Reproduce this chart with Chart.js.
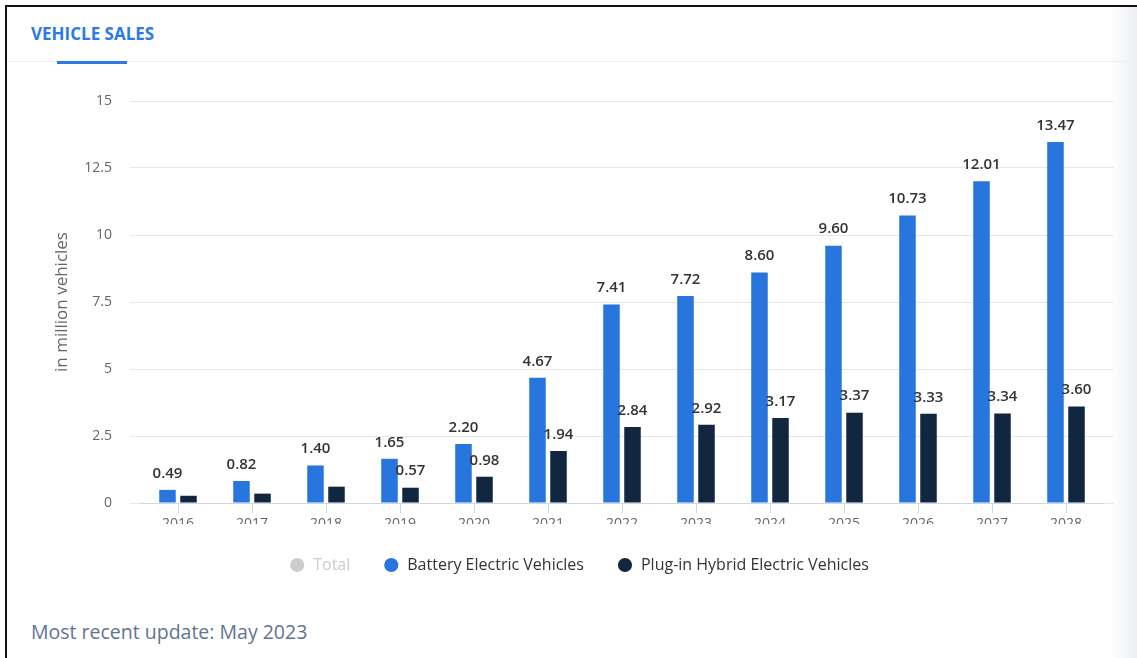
<!DOCTYPE html>
<html>
<head>
<meta charset="utf-8">
<script src="https://cdn.jsdelivr.net/npm/chart.js@4.4.0/dist/chart.umd.min.js"></script>
<style>
  body { margin: 0; width: 1137px; height: 658px; background: #fff; font-family: "Open Sans", sans-serif; overflow: hidden; position: relative; }
  .frame { position: absolute; left: 5px; top: 5px; right: -10px; bottom: -10px; border-left: 2px solid #111; border-top: 2px solid #111; }
  .shade { position: absolute; right: 0; top: 7px; width: 26px; bottom: 0; background: linear-gradient(to right, rgba(238,240,244,0), #eceef2); }
  .title { position: absolute; left: 31px; top: 22px; font-size: 17px; font-weight: 700; color: #2b7be2; }
  .hr { position: absolute; left: 7px; right: 0; top: 61px; height: 1px; background: #eef1f4; }
  .tab { position: absolute; left: 57px; top: 61px; width: 70px; height: 3px; background: #2b7be2; }
  .chart { position: absolute; left: 0; top: 80px; width: 1137px; height: 503px; }
  .update { position: absolute; left: 31px; top: 618px; font-size: 19.5px; color: #5f7491; }
</style>
</head>
<body>
<div class="frame"></div>
<div class="shade"></div>
<div class="title">VEHICLE SALES</div>
<div class="hr"></div>
<div class="tab"></div>
<div class="chart"><canvas id="salesChart"></canvas></div>
<div class="update">Most recent update: May 2023</div>

<script>
  const years = ['2016', '2017', '2018', '2019', '2020', '2021', '2022', '2023', '2024', '2025', '2026', '2027', '2028'];
  const bevSales = [0.49, 0.82, 1.40, 1.65, 2.20, 4.67, 7.41, 7.72, 8.60, 9.60, 10.73, 12.01, 13.47];
  const phevSales = [0.27, 0.35, 0.61, 0.57, 0.98, 1.94, 2.84, 2.92, 3.17, 3.37, 3.33, 3.34, 3.60];
  // years where the PHEV value label is not shown in the original
  const phevNoLabel = ['2016', '2017', '2018'];
  const yTicks = [0, 2.5, 5, 7.5, 10, 12.5, 15];

  const legendNames = ['Total', 'Battery Electric Vehicles', 'Plug-in Hybrid Electric Vehicles'];
  const legendDots = ['#cccccc', '#2876dd', '#10273f'];
  const legendText = ['#cccccc', '#333333', '#333333'];

  const tickFont = { family: '"Open Sans"', size: 14 };

  // Draw the value above each bar
  const valueLabels = {
    id: 'valueLabels',
    afterDatasetsDraw(chart) {
      const ctx = chart.ctx;
      ctx.save();
      ctx.font = '600 15px "Open Sans"';
      ctx.fillStyle = '#333';
      ctx.textAlign = 'center';
      ctx.textBaseline = 'bottom';
      chart.data.datasets.forEach((ds, i) => {
        const meta = chart.getDatasetMeta(i);
        meta.data.forEach((bar, j) => {
          if (ds.noLabel && ds.noLabel.includes(years[j])) return;
          ctx.fillText(ds.data[j].toFixed(2), bar.x, bar.y - 9);
        });
      });
      ctx.restore();
    }
  };

  // no extra room for half tick labels at the ends of the value axes
  const noEndPadding = s => { s.paddingTop = 0; s.paddingBottom = 0; };

  const ctx = document.getElementById('salesChart').getContext('2d');
  const chart = new Chart(ctx, {
    type: 'bar',
    data: {
      labels: years,
      datasets: [
        {
          label: 'Battery Electric Vehicles',
          data: bevSales,
          backgroundColor: '#2876dd',
          borderWidth: 0
        },
        {
          label: 'Plug-in Hybrid Electric Vehicles',
          data: phevSales,
          backgroundColor: '#10273f',
          borderWidth: 0,
          noLabel: phevNoLabel
        }
      ]
    },
    options: {
      responsive: true,
      maintainAspectRatio: false,
      animation: false,
      datasets: {
        bar: { categoryPercentage: 0.568, barPercentage: 0.786 }
      },
      layout: { padding: { top: 21, right: 23, left: 44, bottom: 0 } },
      plugins: {
        tooltip: { enabled: false },
        legend: {
          position: 'bottom',
          onClick: null,
          labels: {
            usePointStyle: true,
            boxWidth: 18,
            boxHeight: 10,
            padding: 33,
            font: { family: '"Open Sans"', size: 16 },
            generateLabels: () => legendNames.map((name, i) => ({
              text: name,
              fillStyle: legendDots[i],
              strokeStyle: legendDots[i],
              lineWidth: 0,
              pointStyle: 'circle',
              fontColor: legendText[i],
              hidden: false
            }))
          }
        }
      },
      scales: {
        x: {
          afterFit: s => { s.height = 21; },
          grid: {
            display: true,
            drawOnChartArea: false,
            offset: false,
            tickLength: 10,
            color: '#ccd6eb'
          },
          border: { color: '#ccd6eb' },
          ticks: { color: '#666', padding: 3, font: tickFont }
        },
        y: {
          min: 0,
          max: 15,
          afterFit: s => { s.width = 97; noEndPadding(s); },
          afterBuildTicks: s => { s.ticks = yTicks.map(v => ({ value: v })); },
          grid: { color: '#e6e6e6', drawTicks: true, tickLength: 11 },
          border: { display: false },
          ticks: {
            color: '#666',
            padding: 18,
            font: tickFont,
            callback: v => String(v)
          },
          title: {
            display: true,
            text: 'in million vehicles',
            color: '#666',
            font: { family: '"Open Sans"', size: 17 },
            padding: { top: 8 }
          }
        },
        // right-hand stub so the grid lines run past the last category
        y2: {
          position: 'right',
          min: 0,
          max: 15,
          afterFit: s => { s.width = 11; noEndPadding(s); },
          afterBuildTicks: s => { s.ticks = yTicks.map(v => ({ value: v })); },
          grid: { color: '#e6e6e6', drawOnChartArea: false, drawTicks: true, tickLength: 11 },
          border: { display: false },
          ticks: { display: false }
        }
      }
    },
    plugins: [valueLabels]
  });
</script>
</body>
</html>
